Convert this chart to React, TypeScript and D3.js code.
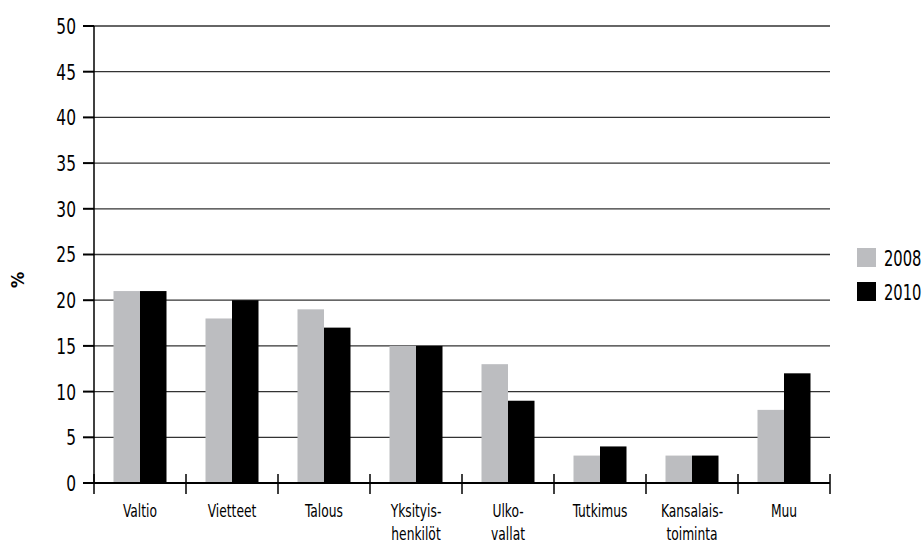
import React from "react";
import * as d3 from "d3";

const categories: string[][] = [
  ["Valtio"],
  ["Vietteet"],
  ["Talous"],
  ["Yksityis-", "henkilöt"],
  ["Ulko-", "vallat"],
  ["Tutkimus"],
  ["Kansalais-", "toiminta"],
  ["Muu"],
];
const series2008 = [21, 18, 19, 15, 13, 3, 3, 8];
const series2010 = [21, 20, 17, 15, 9, 4, 3, 12];
const seriesNames = ["2008", "2010"];
const seriesColors = ["#bcbdc0", "#000000"];
const yTicks = [0, 5, 10, 15, 20, 25, 30, 35, 40, 45, 50];

const FONT = "'DejaVu Sans Condensed', 'Liberation Sans Narrow', sans-serif";
const SX = 0.78;

function T(props: { x: number; y: number; anchor?: string; size: number; weight?: string; children: React.ReactNode; dy?: string }) {
  return (
    <g transform={`translate(${props.x},${props.y}) scale(${SX},1)`}>
      <text x={0} y={0} dy={props.dy} textAnchor={props.anchor || "start"} fontSize={props.size} fontWeight={props.weight} fill="#000">
        {props.children}
      </text>
    </g>
  );
}

export default function App() {
  const W = 924, H = 544;
  const x0 = 94, x1 = 830, yTop = 26, yBot = 483;
  const y = d3.scaleLinear().domain([0, 50]).range([yBot, yTop]);
  const idx = categories.map((_, i) => String(i));
  const x = d3.scaleBand().domain(idx).range([x0, x1]).paddingInner(0).paddingOuter(0);
  const barW = 26.5;
  const data = [series2008, series2010];

  return (
    <svg width={W} height={H} style={{ position: "absolute", left: 0, top: 0, background: "#fff" }} fontFamily={FONT}>
      {yTicks.map((t) => (
        <g key={t}>
          {t > 0 && <line x1={x0} x2={x1} y1={y(t)} y2={y(t)} stroke="#333" strokeWidth={1.3} />}
          <line x1={83} x2={x0} y1={y(t)} y2={y(t)} stroke="#000" strokeWidth={2} />
          <T x={76} y={y(t)} anchor="end" size={22} dy="0.36em">{t}</T>
        </g>
      ))}
      {categories.map((_, i) => {
        const cx = (x(String(i)) as number) + x.bandwidth() / 2;
        return data.map((s, k) => (
          <rect key={`${i}-${k}`} x={cx - barW + k * barW} y={y(s[i])} width={barW} height={y(0) - y(s[i])} fill={seriesColors[k]} />
        ));
      })}
      <line x1={x0} x2={x0} y1={yTop} y2={yBot} stroke="#000" strokeWidth={1.5} />
      <line x1={x0 - 10} x2={x1} y1={yBot} y2={yBot} stroke="#000" strokeWidth={2} />
      {d3.range(categories.length + 1).map((i) => {
        const xx = x0 + i * x.bandwidth();
        return <line key={i} x1={xx} x2={xx} y1={474} y2={494} stroke="#000" strokeWidth={1.5} />;
      })}
      {categories.map((lines, i) => {
        const cx = (x(String(i)) as number) + x.bandwidth() / 2;
        return lines.map((l, j) => (
          <T key={`${i}-${j}`} x={cx} y={517 + j * 23} anchor="middle" size={17.5}>{l}</T>
        ));
      })}
      <g transform={`translate(18,280) rotate(-90)`}>
        <text textAnchor="middle" dy="0.35em" fontSize={18} fontWeight="bold" fill="#000">%</text>
      </g>
      {seriesNames.map((n, k) => (
        <g key={n}>
          <rect x={857} y={248 + k * 34} width={19} height={19} fill={seriesColors[k]} />
          <T x={884} y={258 + k * 34} size={21} dy="0.36em">{n}</T>
        </g>
      ))}
    </svg>
  );
}
